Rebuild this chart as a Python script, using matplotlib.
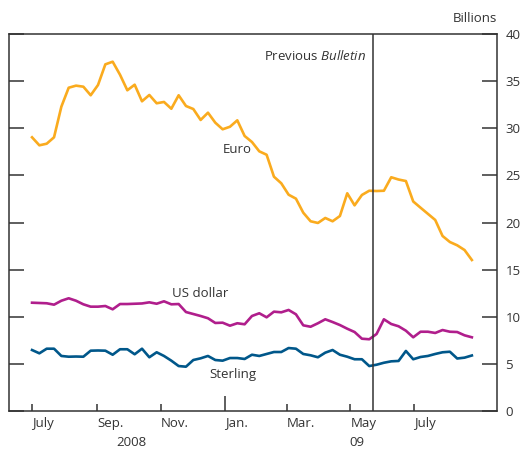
import numpy as np
import pandas as pd
import matplotlib
matplotlib.use('Agg')
import matplotlib.pyplot as plt
import matplotlib.dates as mdates

# weekly observations, billions
dates = pd.date_range('2008-07-01', periods=61, freq='7D')

euro = [29.04, 28.19, 28.36, 29.04, 32.29, 34.30, 34.52, 34.41, 33.50, 34.59,
        36.78, 37.06, 35.68, 34.03, 34.62, 32.86, 33.53, 32.65, 32.79, 32.07,
        33.50, 32.36, 32.04, 30.88, 31.65, 30.59, 29.89, 30.16, 30.84, 29.18,
        28.54, 27.55, 27.19, 24.86, 24.16, 22.95, 22.53, 21.04, 20.13, 19.95,
        20.48, 20.13, 20.69, 23.10, 21.82, 22.92, 23.37, 23.34, 23.37, 24.80,
        24.56, 24.40, 22.23, 21.57, 20.92, 20.27, 18.57, 17.93, 17.58, 17.08,
        16.02]

us_dollar = [11.49, 11.46, 11.43, 11.28, 11.70, 11.96, 11.70, 11.32, 11.07, 11.07,
             11.14, 10.79, 11.35, 11.35, 11.38, 11.41, 11.53, 11.38, 11.64, 11.32,
             11.35, 10.50, 10.29, 10.08, 9.84, 9.34, 9.37, 9.05, 9.31, 9.20,
             10.08, 10.37, 9.94, 10.54, 10.47, 10.72, 10.26, 9.09, 8.94, 9.31,
             9.73, 9.44, 9.12, 8.73, 8.38, 7.67, 7.61, 8.17, 9.73, 9.23,
             8.99, 8.52, 7.82, 8.41, 8.41, 8.28, 8.59, 8.41, 8.38, 8.03,
             7.82]

sterling = [6.47, 6.12, 6.61, 6.61, 5.84, 5.76, 5.78, 5.76, 6.40, 6.42,
            6.40, 5.97, 6.55, 6.55, 6.02, 6.61, 5.70, 6.23, 5.84, 5.34,
            4.77, 4.70, 5.41, 5.59, 5.84, 5.41, 5.34, 5.62, 5.62, 5.52,
            5.97, 5.84, 6.05, 6.26, 6.26, 6.68, 6.61, 6.05, 5.91, 5.70,
            6.19, 6.47, 5.97, 5.76, 5.49, 5.49, 4.77, 4.91, 5.12, 5.27,
            5.31, 6.37, 5.49, 5.73, 5.84, 6.05, 6.23, 6.29, 5.57, 5.66,
            5.89]

tick_dates = ['2008-07-01', '2008-09-01', '2008-11-01', '2009-01-01',
              '2009-03-01', '2009-05-01', '2009-07-01']
tick_labels = ['July', 'Sep.', 'Nov.', 'Jan.', 'Mar.', 'May', 'July']
bulletin_date = '2009-05-23'

plt.rcParams['font.family'] = ['Open Sans', 'DejaVu Sans']
plt.rcParams['mathtext.fontset'] = 'custom'
plt.rcParams['mathtext.rm'] = 'Open Sans'
plt.rcParams['mathtext.it'] = 'Open Sans:italic'

txt = '#333333'
fig = plt.figure(figsize=(5.25, 4.5), dpi=100)
ax = fig.add_axes([9/525, 1-411/450, 488/525, 377/450])

ax.plot(dates, euro, color='#FAAB1E', lw=1.9)
ax.plot(dates, us_dollar, color='#B01E8C', lw=1.9)
ax.plot(dates, sterling, color='#00578A', lw=1.9)
ax.axvline(pd.Timestamp(bulletin_date), color='#333333', lw=1.1)

ax.set_xlim(pd.Timestamp('2008-06-09'), pd.Timestamp('2009-09-18'))
ax.set_ylim(0, 40)

for s in ax.spines.values():
    s.set_color('#333333')
    s.set_linewidth(1.1)

ax.set_yticks(range(0, 41, 5))
ax.tick_params(axis='y', left=True, right=True, labelleft=False,
               labelright=True, direction='in', length=11, width=1.1,
               color='#333333', labelsize=9.5, labelcolor=txt, pad=6)

ax.set_xticks([pd.Timestamp(d) for d in tick_dates])
ax.set_xticklabels(tick_labels, ha='left')
ax.tick_params(axis='x', direction='in', length=5, width=1.1, color='#333333',
               labelsize=9.5, labelcolor=txt, pad=4)
ax.xaxis.get_major_ticks()[3].tick1line.set_markersize(11)

ax.text(1.0, 1.025, 'Billions', transform=ax.transAxes, ha='right',
        va='bottom', fontsize=9.5, color=txt)
ax.text(pd.Timestamp('2009-05-16'), 37.7, r'Previous $\mathit{Bulletin}$',
        ha='right', va='center', fontsize=9.5, color=txt)
ax.text(pd.Timestamp('2008-12-30'), 27.7, 'Euro', ha='left', va='center',
        fontsize=9.5, color=txt)
ax.text(pd.Timestamp('2008-11-12'), 12.5, 'US dollar', ha='left', va='center',
        fontsize=9.5, color=txt)
ax.text(pd.Timestamp('2008-12-17'), 3.9, 'Sterling', ha='left', va='center',
        fontsize=9.5, color=txt)

# year labels sit at the very bottom edge
fig.text(131/525, 1/450, '2008', ha='center', va='bottom', fontsize=9.5,
         color=txt)
fig.text(357/525, 1/450, '09', ha='center', va='bottom', fontsize=9.5,
         color=txt)

fig.savefig('out.png', dpi=100)
